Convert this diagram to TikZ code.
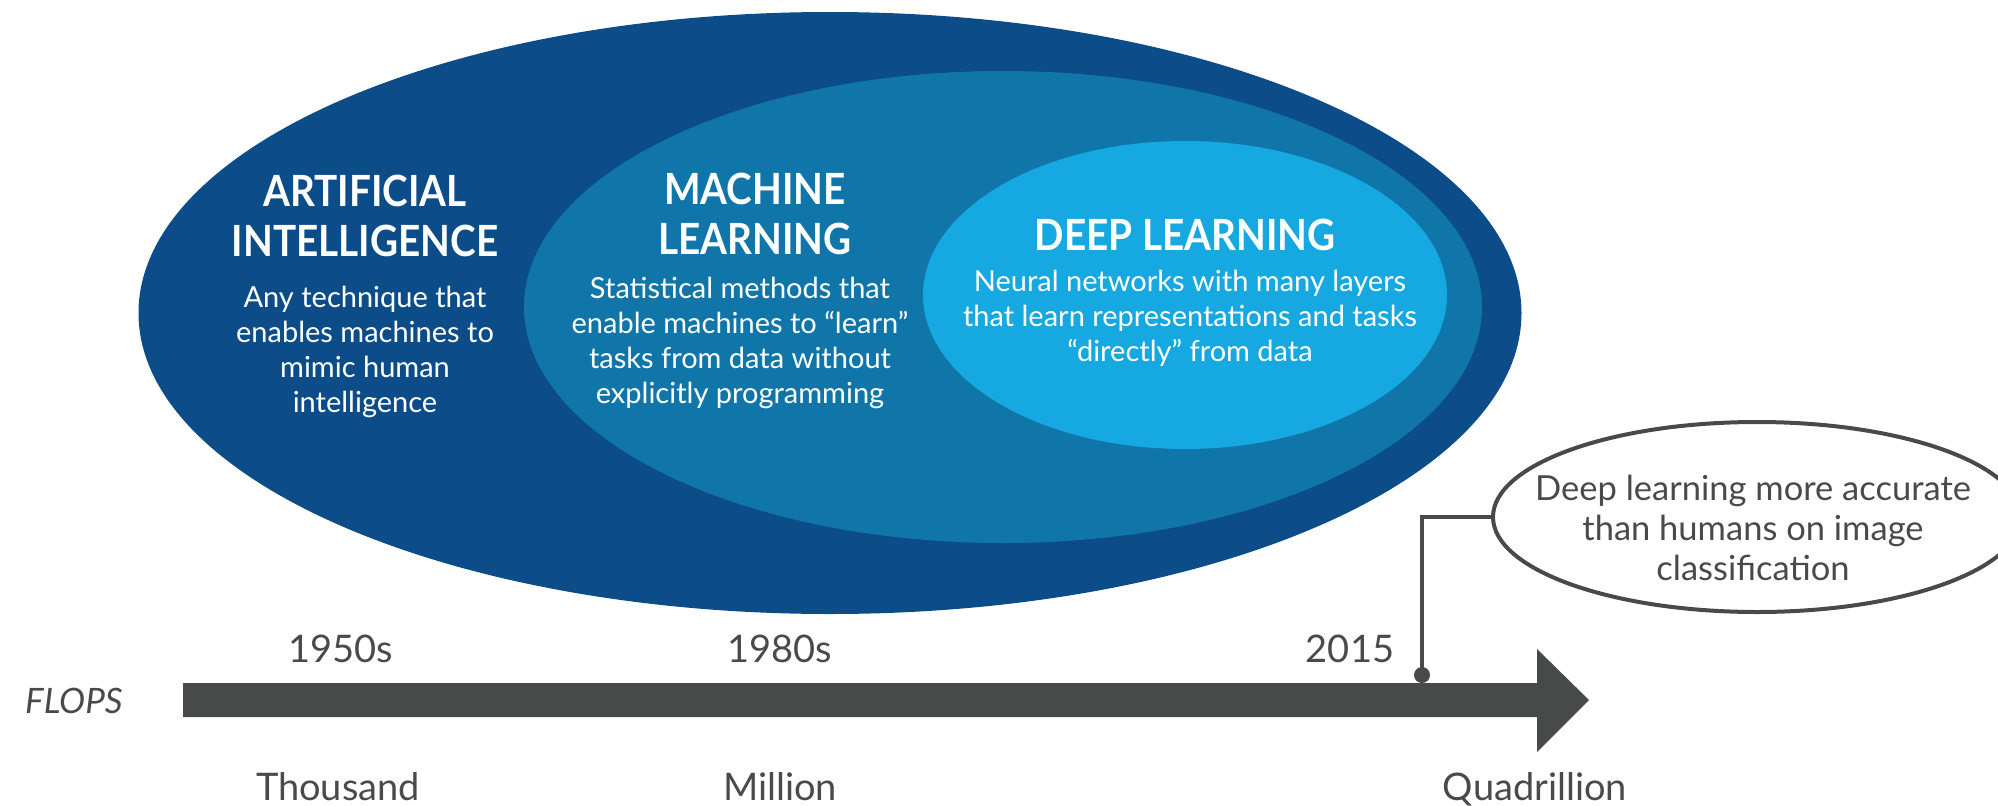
\documentclass[tikz,border=0pt]{standalone}
\usepackage{fontspec}
\setmainfont{Lato}
\newfontfamily\titlefont[FakeStretch=0.9]{Lato}
\usetikzlibrary{shapes.geometric,calc}
\definecolor{aiblue}{RGB}{11,76,137}
\definecolor{mlblue}{RGB}{16,118,170}
\definecolor{dlblue}{RGB}{22,168,224}
\definecolor{bargray}{RGB}{72,74,73}
\definecolor{textgray}{RGB}{74,74,74}
\begin{document}
\begin{tikzpicture}[x=1pt,y=-1pt,
  blob/.style={ellipse, inner sep=0pt, draw=none},
  title/.style={text=white, font=\titlefont\fontsize{43}{50}\selectfont\bfseries, align=center, inner sep=0pt},
  body/.style={text=white, font=\fontsize{29}{35}\selectfont, align=center, inner sep=0pt},
  tl/.style={text=textgray, font=\fontsize{38}{44}\selectfont, inner sep=0pt, anchor=base},
  conn/.style={draw=bargray, line width=4pt}
]
\useasboundingbox (0,0) rectangle (1998,806);

% nested ellipses
\node[blob, fill=aiblue, minimum width=1383, minimum height=602] (ai) at (830,313) {};
\node[blob, fill=mlblue, minimum width=958, minimum height=472] (ml) at (1003,307) {};
\node[blob, fill=dlblue, minimum width=524, minimum height=308] (dl) at (1185,295) {};

% texts
\node[title] (aititle) at (365,216) {ARTIFICIAL\\INTELLIGENCE};
\node[body] (aibody) at (365,352) {Any technique that\\enables machines to\\mimic human\\intelligence};
\node[title] (mltitle) at (755,214) {MACHINE\\LEARNING};
\node[body] (mlbody) at (740,343) {Statistical methods that\\enable machines to “learn”\\tasks from data without\\explicitly programming};
\node[title] (dltitle) at (1185,235) {DEEP LEARNING};
\node[body] (dlbody) at (1190,318) {Neural networks with many layers\\that learn representations and tasks\\“directly” from data};

% timeline arrow
\fill[bargray] (183,683) -- (1537,683) -- (1537,649) -- (1589,700) -- (1537,752) -- (1537,717) -- (183,717) -- cycle;
\node[circle, fill=bargray, minimum size=16, inner sep=0pt] (dot) at (1422,675) {};

% callout
\node[ellipse, draw=bargray, fill=white, line width=4pt, minimum width=528, minimum height=190, inner sep=0pt] (callout) at (1757,517) {};
\draw[conn] (dot.center) |- (callout.west);
\node[text=textgray, font=\fontsize{34.5}{40}\selectfont, align=center, inner sep=0pt] (callouttext) at (1753,528) {Deep learning more accurate\\than humans on image\\classification};

% timeline labels
\node[tl] (y1950) at (341,662) {1950s};
\node[tl] (y1980) at (780,662) {1980s};
\node[tl] (y2015) at (1350,662) {2015};
\node[tl] (thousand) at (338,800) {Thousand};
\node[tl] (million) at (780,800) {Million};
\node[tl] (quad) at (1535,800) {Quadrillion};
\node[text=textgray, font=\fontsize{35}{40}\selectfont\itshape, inner sep=0pt, anchor=base west] (flops) at (25,713) {FLOPS};
\end{tikzpicture}
\end{document}
